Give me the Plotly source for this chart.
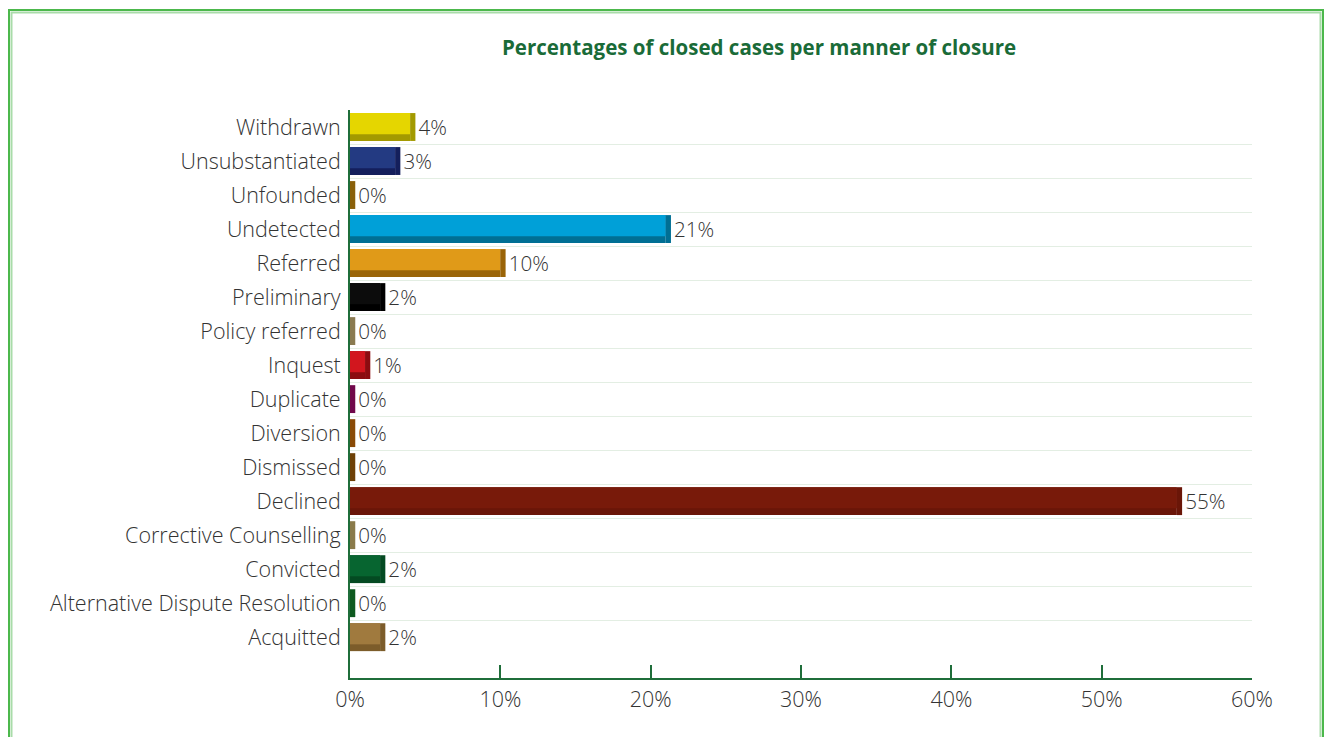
import plotly.graph_objects as go

# Manner of closure, listed top to bottom
categories = [
    "Withdrawn", "Unsubstantiated", "Unfounded", "Undetected", "Referred",
    "Preliminary", "Policy referred", "Inquest", "Duplicate", "Diversion",
    "Dismissed", "Declined", "Corrective Counselling", "Convicted",
    "Alternative Dispute Resolution", "Acquitted",
]
percentages = [4, 3, 0, 21, 10, 2, 0, 1, 0, 0, 0, 55, 0, 2, 0, 2]

front_colors = [
    "#e5d600", "#233a82", "#b07c14", "#00a0d8", "#e09a18",
    "#0c0c0c", "#b0a070", "#d2161e", "#a8106e", "#b8640a",
    "#9c5c08", "#781a0a", "#b09c68", "#076530", "#1a7a30", "#a07a3e",
]
shade_colors = [
    "#a39a00", "#141f5c", "#8a600a", "#006f94", "#9a6408",
    "#000000", "#8a7a50", "#8c0c10", "#70084a", "#8a4a06",
    "#6e4006", "#6a1608", "#8a7a4a", "#044a22", "#0e5a20", "#7c5c2a",
]

x_ticks = [0, 10, 20, 30, 40, 50, 60]
x_ticktext = [f"{v}%" for v in x_ticks]

DEPTH = 0.35  # extruded side face, in percentage points
label_font = dict(family="Open Sans", size=21.5, color="#333333", weight=300)

fig = go.Figure()

# lower (shaded) face spanning the full bar thickness
fig.add_trace(go.Bar(
    y=categories, x=percentages, orientation="h",
    marker=dict(color=shade_colors, line=dict(width=0)),
    width=0.82, offset=-0.41, hoverinfo="skip",
))
# front face
fig.add_trace(go.Bar(
    y=categories, x=percentages, orientation="h",
    marker=dict(color=front_colors, line=dict(width=0)),
    width=0.62, offset=-0.41,
    hovertemplate="%{y}: %{x}%<extra></extra>",
))
# right-hand side face, carrying the value label
fig.add_trace(go.Bar(
    y=categories, x=[DEPTH] * len(percentages), base=percentages,
    orientation="h",
    marker=dict(color=shade_colors, line=dict(width=0)),
    width=0.82, offset=-0.41,
    text=[f"{v}%" for v in percentages], textposition="outside",
    textfont=label_font, cliponaxis=False, hoverinfo="skip",
))

fig.update_layout(
    width=1326, height=737,
    margin=dict(l=350, r=74, t=110, b=59),
    paper_bgcolor="white", plot_bgcolor="white",
    barmode="overlay", showlegend=False,
    title=dict(
        text="<b>Percentages of closed cases per manner of closure</b>",
        x=759 / 1326, xanchor="center", y=1 - 48 / 737, yanchor="middle",
        font=dict(family="Open Sans", size=20.5, color="#1a6b38"),
    ),
    font=label_font,
    xaxis=dict(
        range=[0, 60], tickvals=x_ticks, ticktext=x_ticktext,
        showgrid=False, zeroline=False,
        showline=True, linecolor="#1f6e3a", linewidth=2,
        ticks="inside", ticklen=13, tickwidth=2, tickcolor="#1f6e3a",
        tickfont=label_font, ticklabelstandoff=1,
    ),
    yaxis=dict(
        type="category", categoryorder="array", categoryarray=categories,
        range=[16.2, -0.5], tickson="boundaries",
        showgrid=True, gridcolor="#e3eee3", gridwidth=1,
        showline=True, linecolor="#1f6e3a", linewidth=2,
        ticks="", tickfont=label_font, ticklabelstandoff=3,
    ),
    shapes=[
        dict(type="rect", xref="paper", yref="paper",
             x0=(9 - 350) / 902, x1=(1323 - 350) / 902,
             y0=-0.2, y1=(678 - 10) / 568,
             line=dict(color="#4cb84c", width=2), layer="below"),
        dict(type="rect", xref="paper", yref="paper",
             x0=(11.5 - 350) / 902, x1=(1320.5 - 350) / 902,
             y0=-0.2, y1=(678 - 12.5) / 568,
             line=dict(color="#a9dca9", width=2), layer="below"),
    ],
)

fig.write_html("out.html")
